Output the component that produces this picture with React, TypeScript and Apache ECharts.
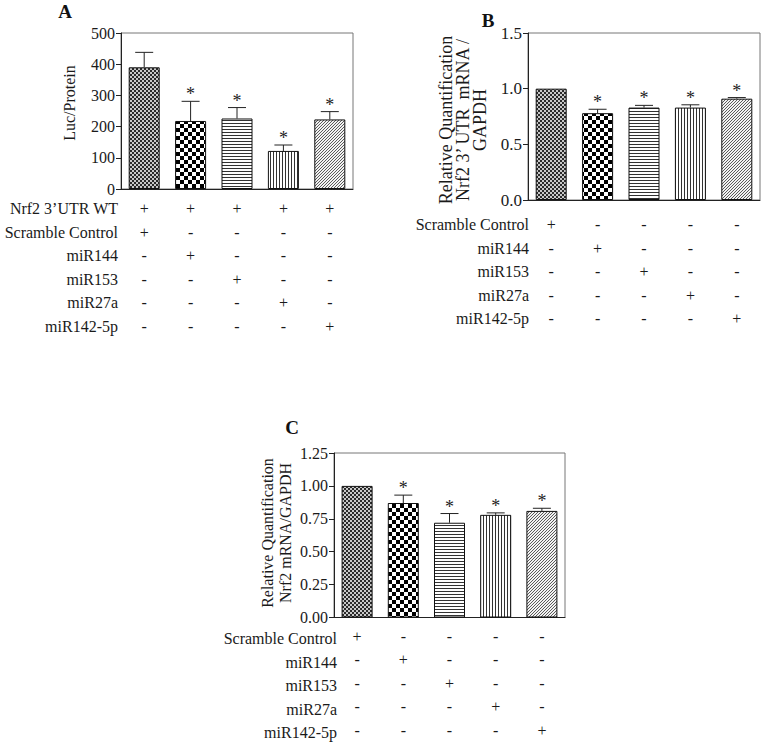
import React, { useEffect, useRef } from 'react';
import * as echarts from 'echarts';

const categories = ['Scramble Control', 'miR144', 'miR153', 'miR27a', 'miR142-5p'];

const meansA = [390, 218, 226, 122, 223];
const errA = [48, 63, 35, 19, 25];
const sigA = [0, 1, 1, 1, 1];

const meansB = [1.0, 0.78, 0.83, 0.83, 0.91];
const errB = [0, 0.035, 0.02, 0.025, 0.01];
const sigB = [0, 1, 1, 1, 1];

const meansC = [1.0, 0.87, 0.72, 0.78, 0.81];
const errC = [0, 0.06, 0.07, 0.015, 0.02];
const sigC = [0, 1, 1, 1, 1];

const rowLabelsA = ['Nrf2 3\u2019UTR WT', 'Scramble Control', 'miR144', 'miR153', 'miR27a', 'miR142-5p'];
const tableA = [
  ['+', '+', '+', '+', '+'],
  ['+', '-', '-', '-', '-'],
  ['-', '+', '-', '-', '-'],
  ['-', '-', '+', '-', '-'],
  ['-', '-', '-', '+', '-'],
  ['-', '-', '-', '-', '+'],
];
const rowLabelsBC = ['Scramble Control', 'miR144', 'miR153', 'miR27a', 'miR142-5p'];
const tableBC = [
  ['+', '-', '-', '-', '-'],
  ['-', '+', '-', '-', '-'],
  ['-', '-', '+', '-', '-'],
  ['-', '-', '-', '+', '-'],
  ['-', '-', '-', '-', '+'],
];

const FONT = 'Liberation Serif';
const TXT = '#1a1a1a';

function svgPattern(w: number, h: number, body: string) {
  const svg = `<svg xmlns="http://www.w3.org/2000/svg" width="${w}" height="${h}" shape-rendering="crispEdges">${body}</svg>`;
  return {
    image: 'data:image/svg+xml;charset=utf-8,' + encodeURIComponent(svg),
    repeat: 'repeat',
    imageWidth: w,
    imageHeight: h,
  };
}

function makePatterns() {
  const fine = svgPattern(4, 4,
    '<rect width="4" height="4" fill="#c8c8c8"/><rect x="0" y="0" width="2" height="2" fill="#2a2a2a"/><rect x="2" y="2" width="2" height="2" fill="#2a2a2a"/>');
  const checker = svgPattern(8, 8,
    '<rect width="8" height="8" fill="#ffffff"/><rect x="0" y="0" width="4" height="4" fill="#000"/><rect x="4" y="4" width="4" height="4" fill="#000"/>');
  const horiz = svgPattern(4, 3,
    '<rect width="4" height="3" fill="#ffffff"/><rect x="0" y="0" width="4" height="1" fill="#333"/>');
  const vert = svgPattern(3, 4,
    '<rect width="3" height="4" fill="#ffffff"/><rect x="0" y="0" width="1" height="4" fill="#333"/>');
  const diag = svgPattern(3, 3,
    '<rect width="3" height="3" fill="#f2f2f2"/><rect x="2" y="0" width="1" height="1" fill="#5a5a5a"/><rect x="1" y="1" width="1" height="1" fill="#5a5a5a"/><rect x="0" y="2" width="1" height="1" fill="#5a5a5a"/>');
  return [fine, checker, horiz, vert, diag];
}

function errorSeries(idx: number, means: number[], errs: number[], sigs: number[]) {
  return {
    type: 'custom',
    xAxisIndex: idx,
    yAxisIndex: idx,
    z: 5,
    silent: true,
    data: means.map((m, i) => [i, m, errs[i], sigs[i]]),
    renderItem: (params: any, api: any) => {
      const i = api.value(0);
      const m = api.value(1);
      const e = api.value(2);
      const s = api.value(3);
      const top = api.coord([i, m]);
      const up = api.coord([i, m + e]);
      const children: any[] = [];
      if (e > 0) {
        children.push({ type: 'line', shape: { x1: top[0], y1: top[1], x2: up[0], y2: up[1] }, style: { stroke: '#222', lineWidth: 1 } });
        children.push({ type: 'line', shape: { x1: up[0] - 9, y1: up[1], x2: up[0] + 9, y2: up[1] }, style: { stroke: '#222', lineWidth: 1 } });
      }
      if (s) {
        children.push({
          type: 'text', x: up[0], y: up[1] + 2,
          style: { text: '*', fontFamily: FONT, fontSize: 18, fill: '#222', align: 'center', verticalAlign: 'bottom' },
        });
      }
      return { type: 'group', children };
    },
  };
}

export default function App() {
  const ref = useRef<HTMLDivElement>(null);
  useEffect(() => {
    document.body.style.margin = '0';
    if (!ref.current) return;
    const chart = echarts.init(ref.current, undefined, { renderer: 'svg' });
    const patterns = makePatterns();

    const grids = [
      { left: 121, top: 33, width: 232, height: 156 },
      { left: 528, top: 33, width: 232, height: 167 },
      { left: 334, top: 453, width: 231, height: 167 },
    ];
    const tables = [tableA, tableBC, tableBC];
    const labelMargins = [8, 13, 7];
    const LH = 23.5;

    const xAxes = grids.map((g, gi) => ({
      type: 'category',
      gridIndex: gi,
      data: categories,
      axisLine: { lineStyle: { color: '#222', width: 1 } },
      axisTick: { show: false },
      axisLabel: {
        interval: 0,
        margin: labelMargins[gi],
        lineHeight: LH,
        fontSize: 16,
        fontFamily: FONT,
        color: TXT,
        formatter: (_v: string, idx: number) => tables[gi].map((r) => r[idx]).join('\n'),
      },
    }));

    const yCfg = [
      { min: 0, max: 500, interval: 100, dec: 0, fs: 16 },
      { min: 0, max: 1.5, interval: 0.5, dec: 1, fs: 17 },
      { min: 0, max: 1.25, interval: 0.25, dec: 2, fs: 16 },
    ];
    const yAxes = yCfg.map((c, gi) => ({
      type: 'value',
      gridIndex: gi,
      min: c.min,
      max: c.max,
      interval: c.interval,
      splitLine: { show: false },
      axisLine: { show: true, lineStyle: { color: '#222', width: 1 } },
      axisTick: { show: true, length: 5, lineStyle: { color: '#222' } },
      axisLabel: {
        margin: 6,
        fontSize: c.fs,
        fontFamily: FONT,
        color: TXT,
        formatter: (v: number) => v.toFixed(c.dec),
      },
    }));

    const meansAll = [meansA, meansB, meansC];
    const errsAll = [errA, errB, errC];
    const sigsAll = [sigA, sigB, sigC];

    const series: any[] = [];
    meansAll.forEach((means, gi) => {
      series.push({
        type: 'bar',
        xAxisIndex: gi,
        yAxisIndex: gi,
        barWidth: 31,
        silent: true,
        data: means.map((v, i) => ({
          value: v,
          itemStyle: { color: patterns[i], borderColor: '#111', borderWidth: 1 },
        })),
      });
      series.push(errorSeries(gi, means, errsAll[gi], sigsAll[gi]));
    });

    const graphic: any[] = [];
    const letters = [
      { t: 'A', x: 65, y: 11 },
      { t: 'B', x: 488, y: 20 },
      { t: 'C', x: 292, y: 427 },
    ];
    letters.forEach((l) => {
      graphic.push({
        type: 'text', x: l.x, y: l.y,
        style: { text: l.t, fontFamily: FONT, fontWeight: 'bold', fontSize: 19, fill: '#111', align: 'center', verticalAlign: 'middle' },
      });
    });
    const yTitles = [
      { t: 'Luc/Protein', x: 69, y: 103, fs: 16, lh: 18 },
      { t: 'Relative Quantification\nNrf2 3\u2019 UTR  mRNA /\nGAPDH', x: 463, y: 120, fs: 18, lh: 17 },
      { t: 'Relative Quantification\nNrf2 mRNA/GAPDH', x: 276, y: 533, fs: 16, lh: 18 },
    ];
    yTitles.forEach((t) => {
      graphic.push({
        type: 'text', x: t.x, y: t.y, rotation: Math.PI / 2,
        style: { text: t.t, fontFamily: FONT, fontSize: t.fs, lineHeight: t.lh, fill: TXT, align: 'center', verticalAlign: 'middle' },
      });
    });
    const rowSets = [
      { labels: rowLabelsA, right: 118, gi: 0 },
      { labels: rowLabelsBC, right: 529, gi: 1 },
      { labels: rowLabelsBC, right: 337, gi: 2 },
    ];
    rowSets.forEach((rs) => {
      const g = grids[rs.gi];
      const base = g.top + g.height + labelMargins[rs.gi];
      rs.labels.forEach((lab, r) => {
        graphic.push({
          type: 'text', x: rs.right, y: base + LH * (r + 0.5),
          style: { text: lab, fontFamily: FONT, fontSize: 16, fill: TXT, align: 'right', verticalAlign: 'middle' },
        });
      });
    });

    chart.setOption({
      animation: false,
      backgroundColor: '#ffffff',
      textStyle: { fontFamily: FONT },
      grid: grids.map((g) => ({ ...g, show: true, borderColor: '#777', borderWidth: 1, backgroundColor: 'transparent', containLabel: false })),
      xAxis: xAxes,
      yAxis: yAxes,
      series,
      graphic,
    });
    return () => chart.dispose();
  }, []);
  return <div ref={ref} style={{ width: 764, height: 742 }} />;
}
